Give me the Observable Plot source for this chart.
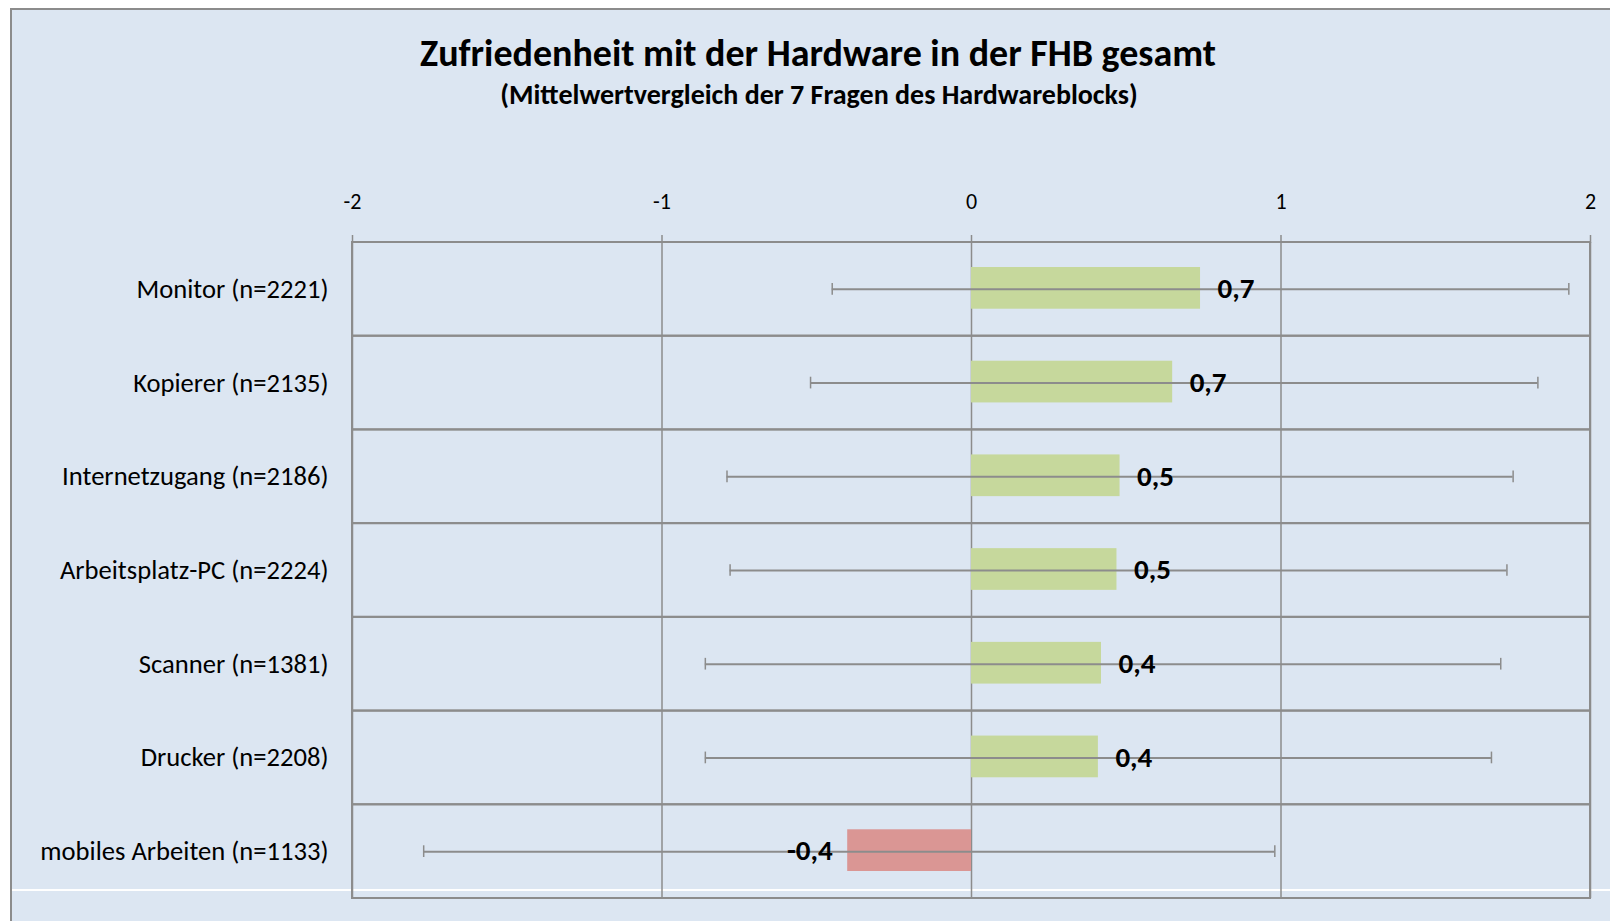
<!DOCTYPE html>
<html>
<head>
<meta charset="utf-8">
<script src="https://cdn.jsdelivr.net/npm/d3@7"></script>
<script src="https://cdn.jsdelivr.net/npm/@observablehq/plot@0.6"></script>
<style>
  html, body { margin: 0; padding: 0; background: #ffffff; }
  body { width: 1610px; height: 921px; overflow: hidden; position: relative; font-family: Carlito, Lato, "Open Sans", sans-serif; }
  #frame { position: absolute; left: 10px; top: 8px; right: 0; bottom: 0; background: #dce6f2; border-left: 2px solid #8c8c8c; border-top: 2px solid #8c8c8c; }
  #whiteline { position: absolute; left: 12px; right: 0; top: 889px; height: 1.5px; background: #ffffff; }
  #chart { position: absolute; left: 0; top: 0; width: 1610px; height: 921px; }
  #title { position: absolute; left: 0; width: 1636px; top: 32px; text-align: center; font-weight: 700; font-size: 38px; line-height: 42px; color: #000; }
  #subtitle { position: absolute; left: 0; width: 1638px; top: 79px; text-align: center; font-weight: 700; font-size: 28px; line-height: 32px; color: #000; }
  #plot { position: absolute; left: 0; top: 150px; line-height: 0; }
  #plot svg { background: transparent; display: block; }
</style>
</head>
<body>
<div id="frame"></div>
<div id="whiteline"></div>
<div id="chart">
  <div id="title">Zufriedenheit mit der Hardware in der FHB gesamt</div>
  <div id="subtitle">(Mittelwertvergleich der 7 Fragen des Hardwareblocks)</div>
  <div id="plot"></div>
</div>
<script>
const categories = ["Monitor (n=2221)", "Kopierer (n=2135)", "Internetzugang (n=2186)", "Arbeitsplatz-PC (n=2224)", "Scanner (n=1381)", "Drucker (n=2208)", "mobiles Arbeiten (n=1133)"];
const means = [0.74, 0.65, 0.48, 0.47, 0.42, 0.41, -0.40];
const lower = [-0.45, -0.52, -0.79, -0.78, -0.86, -0.86, -1.77];
const upper = [1.93, 1.83, 1.75, 1.73, 1.71, 1.68, 0.98];
const xTicks = [-2, -1, 0, 1, 2];

const rows = categories.map((cat, i) => ({cat, mean: means[i], lo: lower[i], hi: upper[i]}));
const fmt = v => v.toFixed(1).replace(".", ",");
const grid = "#8c8c8c";
const font = "Carlito, Lato, 'Open Sans', sans-serif";

const chart = Plot.plot({
  width: 1610,
  height: 771,
  marginTop: 92,
  marginBottom: 23,
  marginLeft: 352,
  marginRight: 20,
  style: {background: "transparent", fontFamily: font, color: "#000"},
  x: {domain: [d3.min(xTicks), d3.max(xTicks)]},
  y: {domain: categories, padding: 0, round: false},
  marks: [
    Plot.barX(categories, {x1: d3.min(xTicks), x2: d3.max(xTicks), y: d => d, fill: "none", stroke: grid, strokeWidth: 2}),
    Plot.ruleX(xTicks, {stroke: grid, strokeWidth: 1.5}),
    Plot.barX(rows.filter(d => d.mean >= 0), {x1: 0, x2: "mean", y: "cat", fill: "#c6d89c", insetTop: 25, insetBottom: 27}),
    Plot.barX(rows.filter(d => d.mean < 0), {x1: 0, x2: "mean", y: "cat", fill: "#da9694", insetTop: 25, insetBottom: 27}),
    Plot.ruleY(rows, {y: "cat", x1: "lo", x2: "hi", stroke: grid, strokeWidth: 2}),
    Plot.tickX(rows, {x: "lo", y: "cat", stroke: grid, strokeWidth: 1.5, insetTop: 41, insetBottom: 41}),
    Plot.tickX(rows, {x: "hi", y: "cat", stroke: grid, strokeWidth: 1.5, insetTop: 41, insetBottom: 41}),
    Plot.text(rows.filter(d => d.mean >= 0), {x: "mean", y: "cat", text: d => fmt(d.mean), textAnchor: "start", dx: 17, dy: -0.5, fontSize: 29, fontWeight: "bold", fill: "#000"}),
    Plot.text(rows.filter(d => d.mean < 0), {x: "mean", y: "cat", text: d => fmt(d.mean), textAnchor: "end", dx: -15, dy: -0.5, fontSize: 29, fontWeight: "bold", fill: "#000"}),
    Plot.axisX({anchor: "top", ticks: xTicks, tickFormat: d => `${d}`, tickSize: 8, tickPadding: 26, stroke: grid, strokeWidth: 1.5, fontSize: 22, label: null}),
    Plot.axisY({anchor: "left", tickSize: 0, tickPadding: 24, fontSize: 26.6, label: null})
  ]
});
document.getElementById("plot").appendChild(chart);
</script>
</body>
</html>
